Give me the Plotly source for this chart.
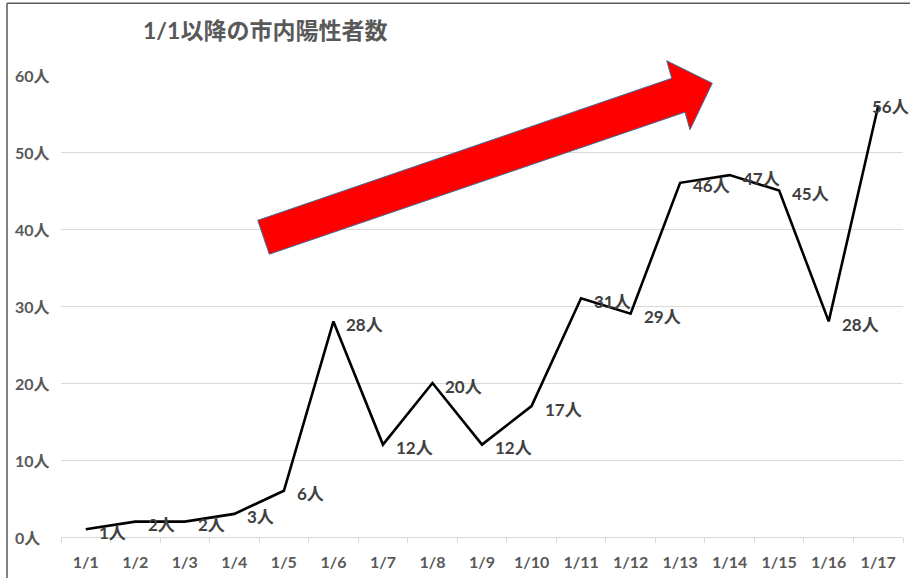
import plotly.graph_objects as go

# ---- data ----
dates = ["1/1", "1/2", "1/3", "1/4", "1/5", "1/6", "1/7", "1/8", "1/9",
         "1/10", "1/11", "1/12", "1/13", "1/14", "1/15", "1/16", "1/17"]
cases = [1, 2, 2, 3, 6, 28, 12, 20, 12, 17, 31, 29, 46, 47, 45, 28, 56]
y_ticks = [0, 10, 20, 30, 40, 50, 60]
unit = "人"
title_text = "1/1以降の市内陽性者数"

# ---- layout geometry (pixels) ----
W, H = 910, 578
L, R, T, B = 61, 7, 75, 39
PW, PH = W - L - R, H - T - B

def px(x):
    return (x - L) / PW

def py(y):
    return (H - B - y) / PH

FONT = "Lato, 'Noto Sans CJK JP', sans-serif"
TXT = "#595959"
GRID = "#D9D9D9"

fig = go.Figure()
fig.add_trace(go.Scatter(
    x=dates, y=cases, mode="lines",
    line=dict(color="black", width=2.6),
    hoverinfo="skip", showlegend=False,
))

annotations = []
last = len(dates) - 1
for i, (d, v) in enumerate(zip(dates, cases)):
    annotations.append(dict(
        x=d, y=v, xref="x", yref="y", text=f"<b>{v}{unit}</b>",
        showarrow=False, xanchor="left", yanchor="middle",
        xshift=-7 if i == last else 12, yshift=-1 if i == last else -3,
        borderpad=0,
        font=dict(family=FONT, size=17, color="#404040"),
    ))
for t in y_ticks:
    annotations.append(dict(
        x=px(13), y=t, xref="paper", yref="y", text=f"<b>{t}{unit}</b>",
        showarrow=False, xanchor="left", yanchor="middle",
        font=dict(family=FONT, size=16, color=TXT),
    ))

# red trend arrow (decoration, pixel-based outline)
arrow_px = [(257.7, 221), (671.7, 78.3), (666.7, 60.7), (712.3, 83.3),
            (690, 130), (685, 112.3), (269.3, 255)]
path = "M " + " L ".join(f"{px(x):.5f},{py(y):.5f}" for x, y in arrow_px) + " Z"

shapes = [
    dict(type="path", xref="paper", yref="paper", path=path,
         fillcolor="#FF0000", line=dict(color="#41719C", width=1), layer="above"),
    dict(type="line", xref="paper", yref="paper",
         x0=px(7), x1=px(7), y0=py(3), y1=py(H + 5),
         line=dict(color="#595959", width=1.5)),
    dict(type="line", xref="paper", yref="paper",
         x0=px(7), x1=px(W + 5), y0=py(3), y1=py(3),
         line=dict(color="#595959", width=1.5)),
]

fig.update_layout(
    width=W, height=H,
    margin=dict(l=L, r=R, t=T, b=B, pad=0),
    paper_bgcolor="white", plot_bgcolor="white",
    title=dict(text=f"<b>{title_text}</b>", x=143 / W, xanchor="left",
               xref="container", y=1 - 31 / H, yanchor="middle",
               font=dict(family=FONT, size=23, color=TXT)),
    xaxis=dict(
        type="category", range=[-0.5, len(dates) - 0.5],
        showgrid=False, showline=True, linecolor=GRID, linewidth=1,
        ticks="outside", tickson="boundaries", ticklen=5, tickcolor=GRID,
        tickfont=dict(family=FONT, size=16, color=TXT),
        tickprefix="<b>", ticksuffix="</b>", ticklabelstandoff=11,
        fixedrange=True,
    ),
    yaxis=dict(
        range=[0, 60], tickvals=y_ticks, showticklabels=False,
        showgrid=True, gridcolor=GRID, gridwidth=1, zeroline=False,
        fixedrange=True,
    ),
    annotations=annotations,
    shapes=shapes,
)

fig.write_html(
    "out.html",
    config={"displayModeBar": False, "staticPlot": True},
    post_script="document.body.style.margin='0';document.body.style.overflow='hidden';",
)
